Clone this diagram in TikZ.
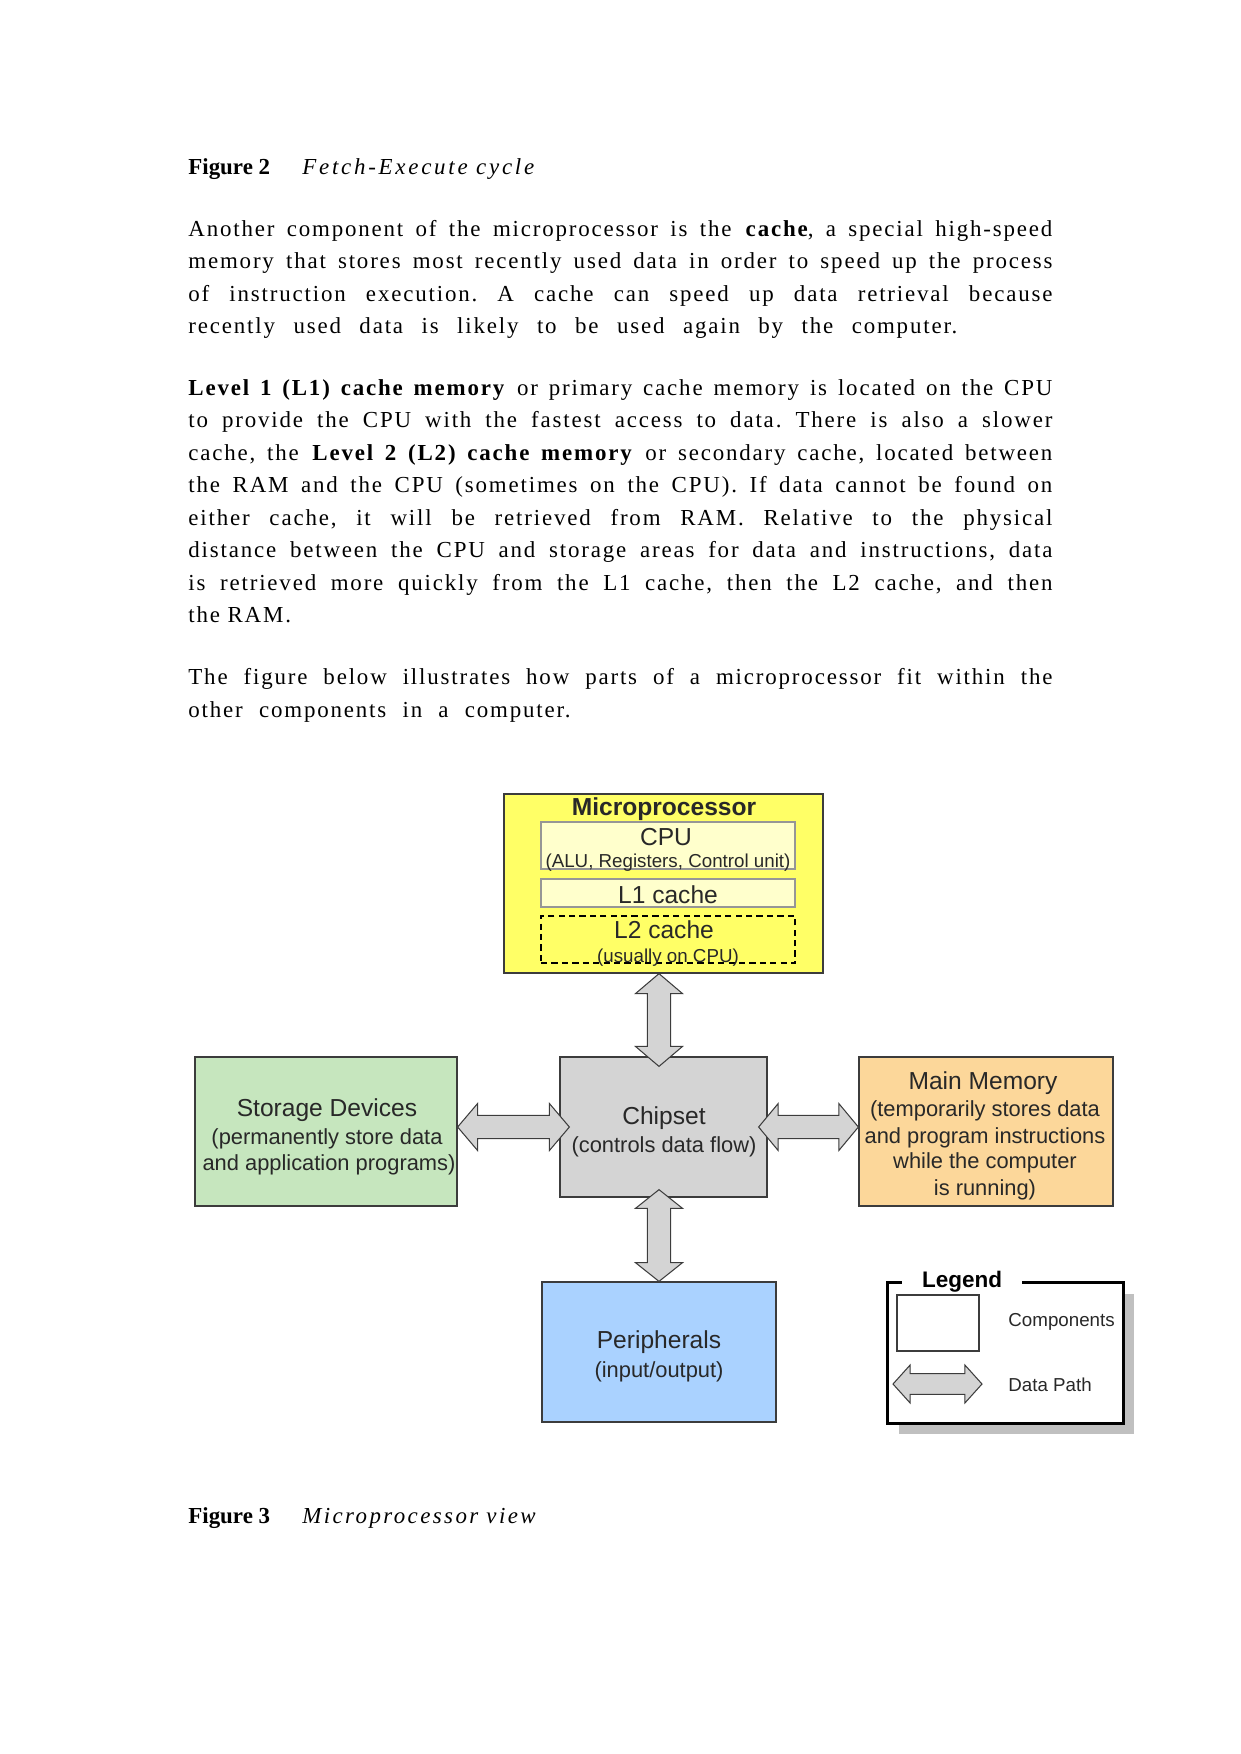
\documentclass[tikz,border=0pt]{standalone}
\usepackage{fontspec}
\setmainfont{Liberation Serif}
\newfontfamily\bodyfont[LetterSpace=8]{Liberation Serif}
\newfontfamily\diafont{Liberation Sans}
\usetikzlibrary{calc}
\definecolor{microfill}{RGB}{255,255,102}
\definecolor{cpufill}{RGB}{255,255,204}
\definecolor{greenfill}{RGB}{198,230,190}
\definecolor{grayfill}{RGB}{212,212,212}
\definecolor{orangefill}{RGB}{252,215,154}
\definecolor{bluefill}{RGB}{170,210,255}
\definecolor{shadowgray}{RGB}{192,192,192}
\definecolor{boxline}{RGB}{60,60,60}
\definecolor{innerline}{RGB}{150,150,150}
\definecolor{diatext}{RGB}{40,40,40}
\newlength\lw \setlength\lw{414.72pt}
\frenchspacing
\newcommand\fatarrow[5]{%
  \coordinate (fa1) at ($(#1)!#3!(#2)$);
  \coordinate (fa2) at ($(#2)!#3!(#1)$);
  \draw[datapath] (#1) -- ($(fa1)!#4!90:(#2)$) -- ($(fa1)!#5!90:(#2)$)
    -- ($(fa2)!#5!-90:(#1)$) -- ($(fa2)!#4!-90:(#1)$) -- (#2)
    -- ($(fa2)!#4!90:(#1)$) -- ($(fa2)!#5!90:(#1)$)
    -- ($(fa1)!#5!-90:(#2)$) -- ($(fa1)!#4!-90:(#2)$) -- cycle;}
\newcommand\capnum[1]{\makebox[54.7pt][l]{{\addfontfeature{LetterSpace=0}\bfseries #1}}}
\begin{document}
\begin{tikzpicture}[x=0.48pt,y=-0.48pt,
  bodyline/.style={anchor=base west, inner sep=0pt, font=\bodyfont\fontsize{11pt}{13pt}\selectfont},
  comp/.style={draw=boxline, line width=0.6pt, inner sep=0pt},
  inner/.style={draw=innerline, line width=0.6pt, fill=cpufill, inner sep=0pt},
  big/.style={anchor=base, inner sep=0pt, text=diatext, font=\diafont\fontsize{11.8pt}{13pt}\selectfont},
  small/.style={anchor=base, inner sep=0pt, text=diatext, font=\diafont\fontsize{10.5pt}{12pt}\selectfont},
  tiny/.style={anchor=base, inner sep=0pt, text=diatext, font=\diafont\fontsize{9pt}{10pt}\selectfont},
  datapath/.style={draw=boxline, line width=0.5pt, fill=grayfill, line join=miter}]
\useasboundingbox (0,0) rectangle (1241,1754);

% ---------- body text ----------
\node[bodyline] (cap2) at (188,174) {\capnum{Figure 2}{\addfontfeature{LetterSpace=12}\itshape Fetch-Execute cycle}};

\node[bodyline] (p1a) at (188,236) {\makebox[\lw][s]{Another component of the microprocessor is the \textbf{cache}, a special high-speed}};
\node[bodyline] (p1b) at (188,268.5) {\makebox[\lw][s]{memory that stores most recently used data in order to speed up the process}};
\node[bodyline] (p1c) at (188,301) {\makebox[\lw][s]{of instruction execution. A cache can speed up data retrieval because}};
\node[bodyline] (p1d) at (188,333.5) {\makebox[369.1pt][s]{recently used data is likely to be used again by the computer.}};

\node[bodyline] (p2a) at (188,395) {\makebox[\lw][s]{\textbf{Level 1 (L1) cache memory} or primary cache memory is located on the CPU}};
\node[bodyline] (p2b) at (188,427.5) {\makebox[\lw][s]{to provide the CPU with the fastest access to data. There is also a slower}};
\node[bodyline] (p2c) at (188,460) {\makebox[\lw][s]{cache, the \textbf{Level 2 (L2) cache memory} or secondary cache, located between}};
\node[bodyline] (p2d) at (188,492.5) {\makebox[\lw][s]{the RAM and the CPU (sometimes on the CPU). If data cannot be found on}};
\node[bodyline] (p2e) at (188,525) {\makebox[\lw][s]{either cache, it will be retrieved from RAM. Relative to the physical}};
\node[bodyline] (p2f) at (188,557.5) {\makebox[\lw][s]{distance between the CPU and storage areas for data and instructions, data}};
\node[bodyline] (p2g) at (188,590) {\makebox[\lw][s]{is retrieved more quickly from the L1 cache, then the L2 cache, and then}};
\node[bodyline] (p2h) at (188,622.5) {the RAM.};

\node[bodyline] (p3a) at (188,684) {\makebox[\lw][s]{The figure below illustrates how parts of a microprocessor fit within the}};
\node[bodyline] (p3b) at (188,717) {\makebox[183.4pt][s]{other components in a computer.}};

\node[bodyline] (cap3) at (188,1523) {\capnum{Figure 3}{\addfontfeature{LetterSpace=10.5}\itshape Microprocessor view}};

% ---------- diagram boxes ----------
\node[comp, fill=microfill, minimum width=319*0.48pt, minimum height=179*0.48pt] (micro) at (663.5,883.5) {};
\node[inner, minimum width=254*0.48pt, minimum height=47*0.48pt] (cpu) at (668,845.5) {};
\node[inner, minimum width=254*0.48pt, minimum height=28*0.48pt] (l1) at (668,893) {};
\node[draw=black, line width=0.6pt, dash pattern=on 3pt off 2pt, inner sep=0pt, minimum width=254*0.48pt, minimum height=47*0.48pt] (l2) at (668,939.5) {};

\node[big, font=\diafont\bfseries\fontsize{11.8pt}{13pt}\selectfont] (tmicro) at (664,815) {Microprocessor};
\node[big] (tcpu) at (666,845) {CPU};
\node[tiny] (tcpu2) at (668,867) {(ALU, Registers, Control unit)};
\node[big] (tl1) at (668,903) {L1 cache};
\node[big] (tl2) at (664,938) {L2 cache};
\node[tiny] (tl2b) at (668,962) {(usually on CPU)};

\node[comp, fill=greenfill, minimum width=262*0.48pt, minimum height=149*0.48pt] (store) at (326,1131.5) {};
\node[big] (tstore) at (327,1116) {Storage Devices};
\node[small] (tstore2) at (327,1144) {(permanently store data};
\node[small] (tstore3) at (329,1170) {and application programs)};

\node[comp, fill=grayfill, minimum width=207*0.48pt, minimum height=140*0.48pt] (chip) at (663.5,1127) {};
\node[big] (tchip) at (664,1124) {Chipset};
\node[small] (tchip2) at (664,1152) {(controls data flow)};

\node[comp, fill=orangefill, minimum width=254*0.48pt, minimum height=149*0.48pt] (mem) at (986,1131.5) {};
\node[big] (tmem) at (983,1089) {Main Memory};
\node[small] (tmem2) at (985,1116) {(temporarily stores data};
\node[small] (tmem3) at (985,1143) {and program instructions};
\node[small] (tmem4) at (985,1168) {while the computer};
\node[small] (tmem5) at (985,1195) {is running)};

\node[comp, fill=bluefill, minimum width=234*0.48pt, minimum height=140*0.48pt] (peri) at (659,1352) {};
\node[big] (tperi) at (659,1348) {Peripherals};
\node[small] (tperi2) at (659,1377) {(input/output)};

% ---------- data paths ----------
\coordinate (t1a) at ($(micro.south)+(-4.5,0)$);
\coordinate (t1b) at ($(chip.north)+(-4.5,10)$);
\coordinate (t2a) at ($(chip.south)+(-4.5,-8)$);
\coordinate (t2b) at (peri.north);
\coordinate (t3a) at (store.east |- chip.west);
\coordinate (t3b) at ($(chip.west)+(10,0)$);
\coordinate (t4a) at ($(chip.east)+(-9,0)$);
\coordinate (t4b) at (mem.west |- chip.east);
\fatarrow{t1a}{t1b}{9.6pt}{11.3pt}{5.6pt}
\fatarrow{t2a}{t2b}{9pt}{11.3pt}{5.6pt}
\fatarrow{t3a}{t3b}{9.6pt}{11.3pt}{5.6pt}
\fatarrow{t4a}{t4b}{9.4pt}{11.3pt}{5.6pt}

% ---------- legend ----------
\fill[shadowgray] (899,1294) rectangle (1134,1434);
\node[fill=white, inner sep=0pt, minimum width=235*0.48pt, minimum height=140*0.48pt] (legbox) at (1005.5,1353) {};
\draw[black, line width=1.2pt] ($(legbox.north west)+(14,0)$) -- (legbox.north west) -- (legbox.south west) -- (legbox.south east) -- (legbox.north east) -- ($(legbox.north west)+(134,0)$);
\node[anchor=base, inner sep=0pt, text=black, font=\diafont\bfseries\fontsize{10.8pt}{12pt}\selectfont] (tleg) at (962,1287) {Legend};
\node[draw=boxline, line width=0.6pt, fill=white, inner sep=0pt, minimum width=82*0.48pt, minimum height=56*0.48pt] (legcomp) at (938,1323) {};
\node[tiny, anchor=base west] (tcomps) at (1008,1326) {Components};
\coordinate (la) at (893,1384);
\coordinate (lb) at (982,1384);
\fatarrow{la}{lb}{8.2pt}{9.1pt}{5pt}
\node[tiny, anchor=base west] (tpath) at (1008,1391) {Data Path};
\end{tikzpicture}
\end{document}
